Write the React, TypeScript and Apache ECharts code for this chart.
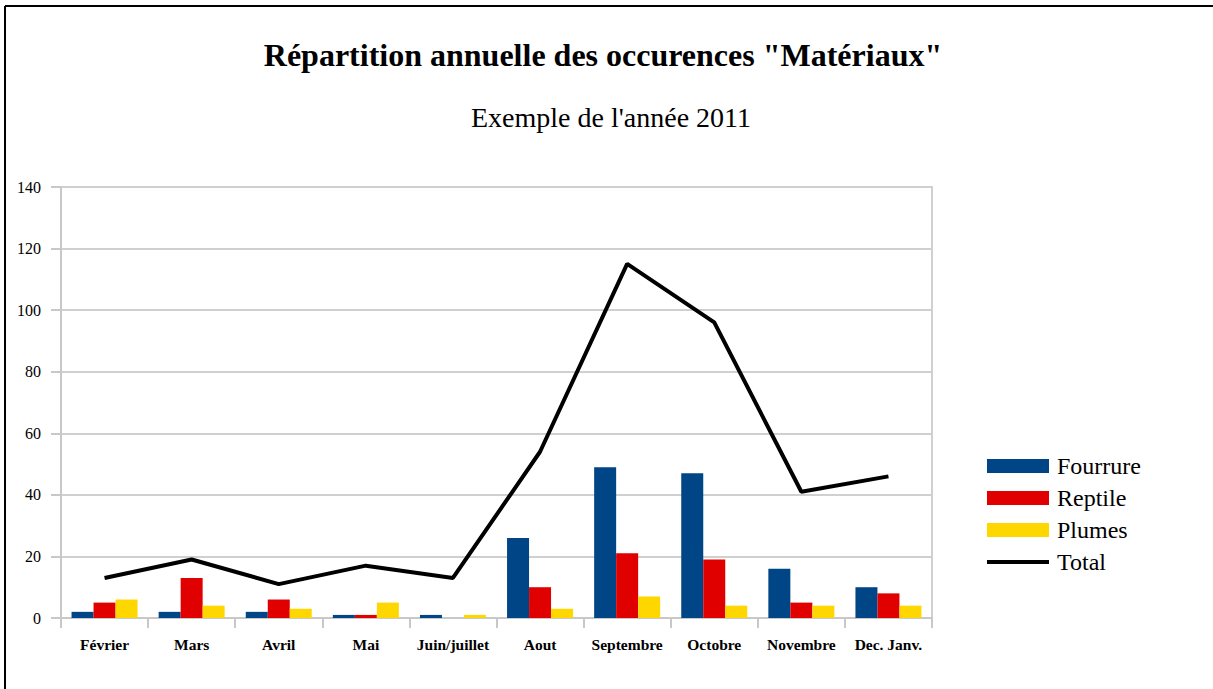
import React, { useEffect, useRef } from "react";
import * as echarts from "echarts";

const categories = ["Février", "Mars", "Avril", "Mai", "Juin/juillet", "Aout", "Septembre", "Octobre", "Novembre", "Dec. Janv."];
const fourrure = [2, 2, 2, 1, 1, 26, 49, 47, 16, 10];
const reptile = [5, 13, 6, 1, 0, 10, 21, 19, 5, 8];
const plumes = [6, 4, 3, 5, 1, 3, 7, 4, 4, 4];
const total = [13, 19, 11, 17, 13, 54, 115, 96, 41, 46];
const yTicks = { min: 0, max: 140, interval: 20 };

const SERIF = "'Liberation Serif', 'DejaVu Serif', serif";

export default function App() {
  const ref = useRef<HTMLDivElement>(null);
  useEffect(() => {
    const chart = echarts.init(ref.current!, null, { renderer: "svg" });
    chart.setOption({
      animation: false,
      backgroundColor: "#ffffff",
      title: [
        {
          text: 'Répartition annuelle des occurences "Matériaux"',
          left: 598,
          top: 34,
          textAlign: "center",
          textStyle: { fontFamily: SERIF, fontSize: 32, fontWeight: "bold", color: "#000" },
        },
        {
          text: "Exemple de l'année 2011",
          left: 606,
          top: 98,
          textAlign: "center",
          textStyle: { fontFamily: SERIF, fontSize: 28, fontWeight: "normal", color: "#000" },
        },
      ],
      graphic: [
        { type: "line", shape: { x1: 5, y1: 6, x2: 1213, y2: 6 }, style: { stroke: "#000", lineWidth: 2 } },
        { type: "line", shape: { x1: 5, y1: 6, x2: 5, y2: 689 }, style: { stroke: "#000", lineWidth: 2 } },
      ],
      legend: {
        orient: "vertical",
        left: 982,
        top: 449,
        itemWidth: 62,
        itemHeight: 14,
        itemGap: 8,
        symbolKeepAspect: true,
        textStyle: { fontFamily: SERIF, fontSize: 24, color: "#000", padding: [0, 0, 0, 3] },
        data: [
          { name: "Fourrure", icon: "rect" },
          { name: "Reptile", icon: "rect" },
          { name: "Plumes", icon: "rect" },
          { name: "Total", icon: "path://M0,0H62V4H0Z" },
        ],
      },
      grid: {
        left: 61,
        right: 281,
        top: 187,
        bottom: 71,
        show: true,
        borderColor: "#d0d0d0",
        borderWidth: 2,
      },
      xAxis: {
        type: "category",
        data: categories,
        boundaryGap: true,
        axisLine: { lineStyle: { color: "#c8c8c8", width: 2 } },
        axisTick: { show: true, interval: 0, length: 10, lineStyle: { color: "#c8c8c8", width: 2 } },
        axisLabel: { interval: 0, fontFamily: SERIF, fontSize: 15.5, fontWeight: "bold", color: "#000", margin: 18 },
      },
      yAxis: {
        type: "value",
        min: yTicks.min,
        max: yTicks.max,
        interval: yTicks.interval,
        axisLine: { show: true, lineStyle: { color: "#c8c8c8", width: 2 } },
        axisTick: { show: true, length: 10, lineStyle: { color: "#c8c8c8", width: 2 } },
        splitLine: { lineStyle: { color: "#d0d0d0", width: 2 } },
        axisLabel: { fontFamily: SERIF, fontSize: 16, color: "#000", margin: 20 },
      },
      series: [
        { name: "Fourrure", type: "bar", data: fourrure, barWidth: 22, barGap: "0%", itemStyle: { color: "#004586" } },
        { name: "Reptile", type: "bar", data: reptile, barWidth: 22, barGap: "0%", itemStyle: { color: "#e00000" } },
        { name: "Plumes", type: "bar", data: plumes, barWidth: 22, barGap: "0%", itemStyle: { color: "#ffd700" } },
        {
          name: "Total",
          type: "line",
          data: total,
          symbol: "none",
          showSymbol: false,
          itemStyle: { color: "#000" },
          lineStyle: { color: "#000", width: 4 },
        },
      ],
    });
    return () => chart.dispose();
  }, []);
  return <div ref={ref} style={{ position: "fixed", left: 0, top: 0, width: 1213, height: 689 }} />;
}
